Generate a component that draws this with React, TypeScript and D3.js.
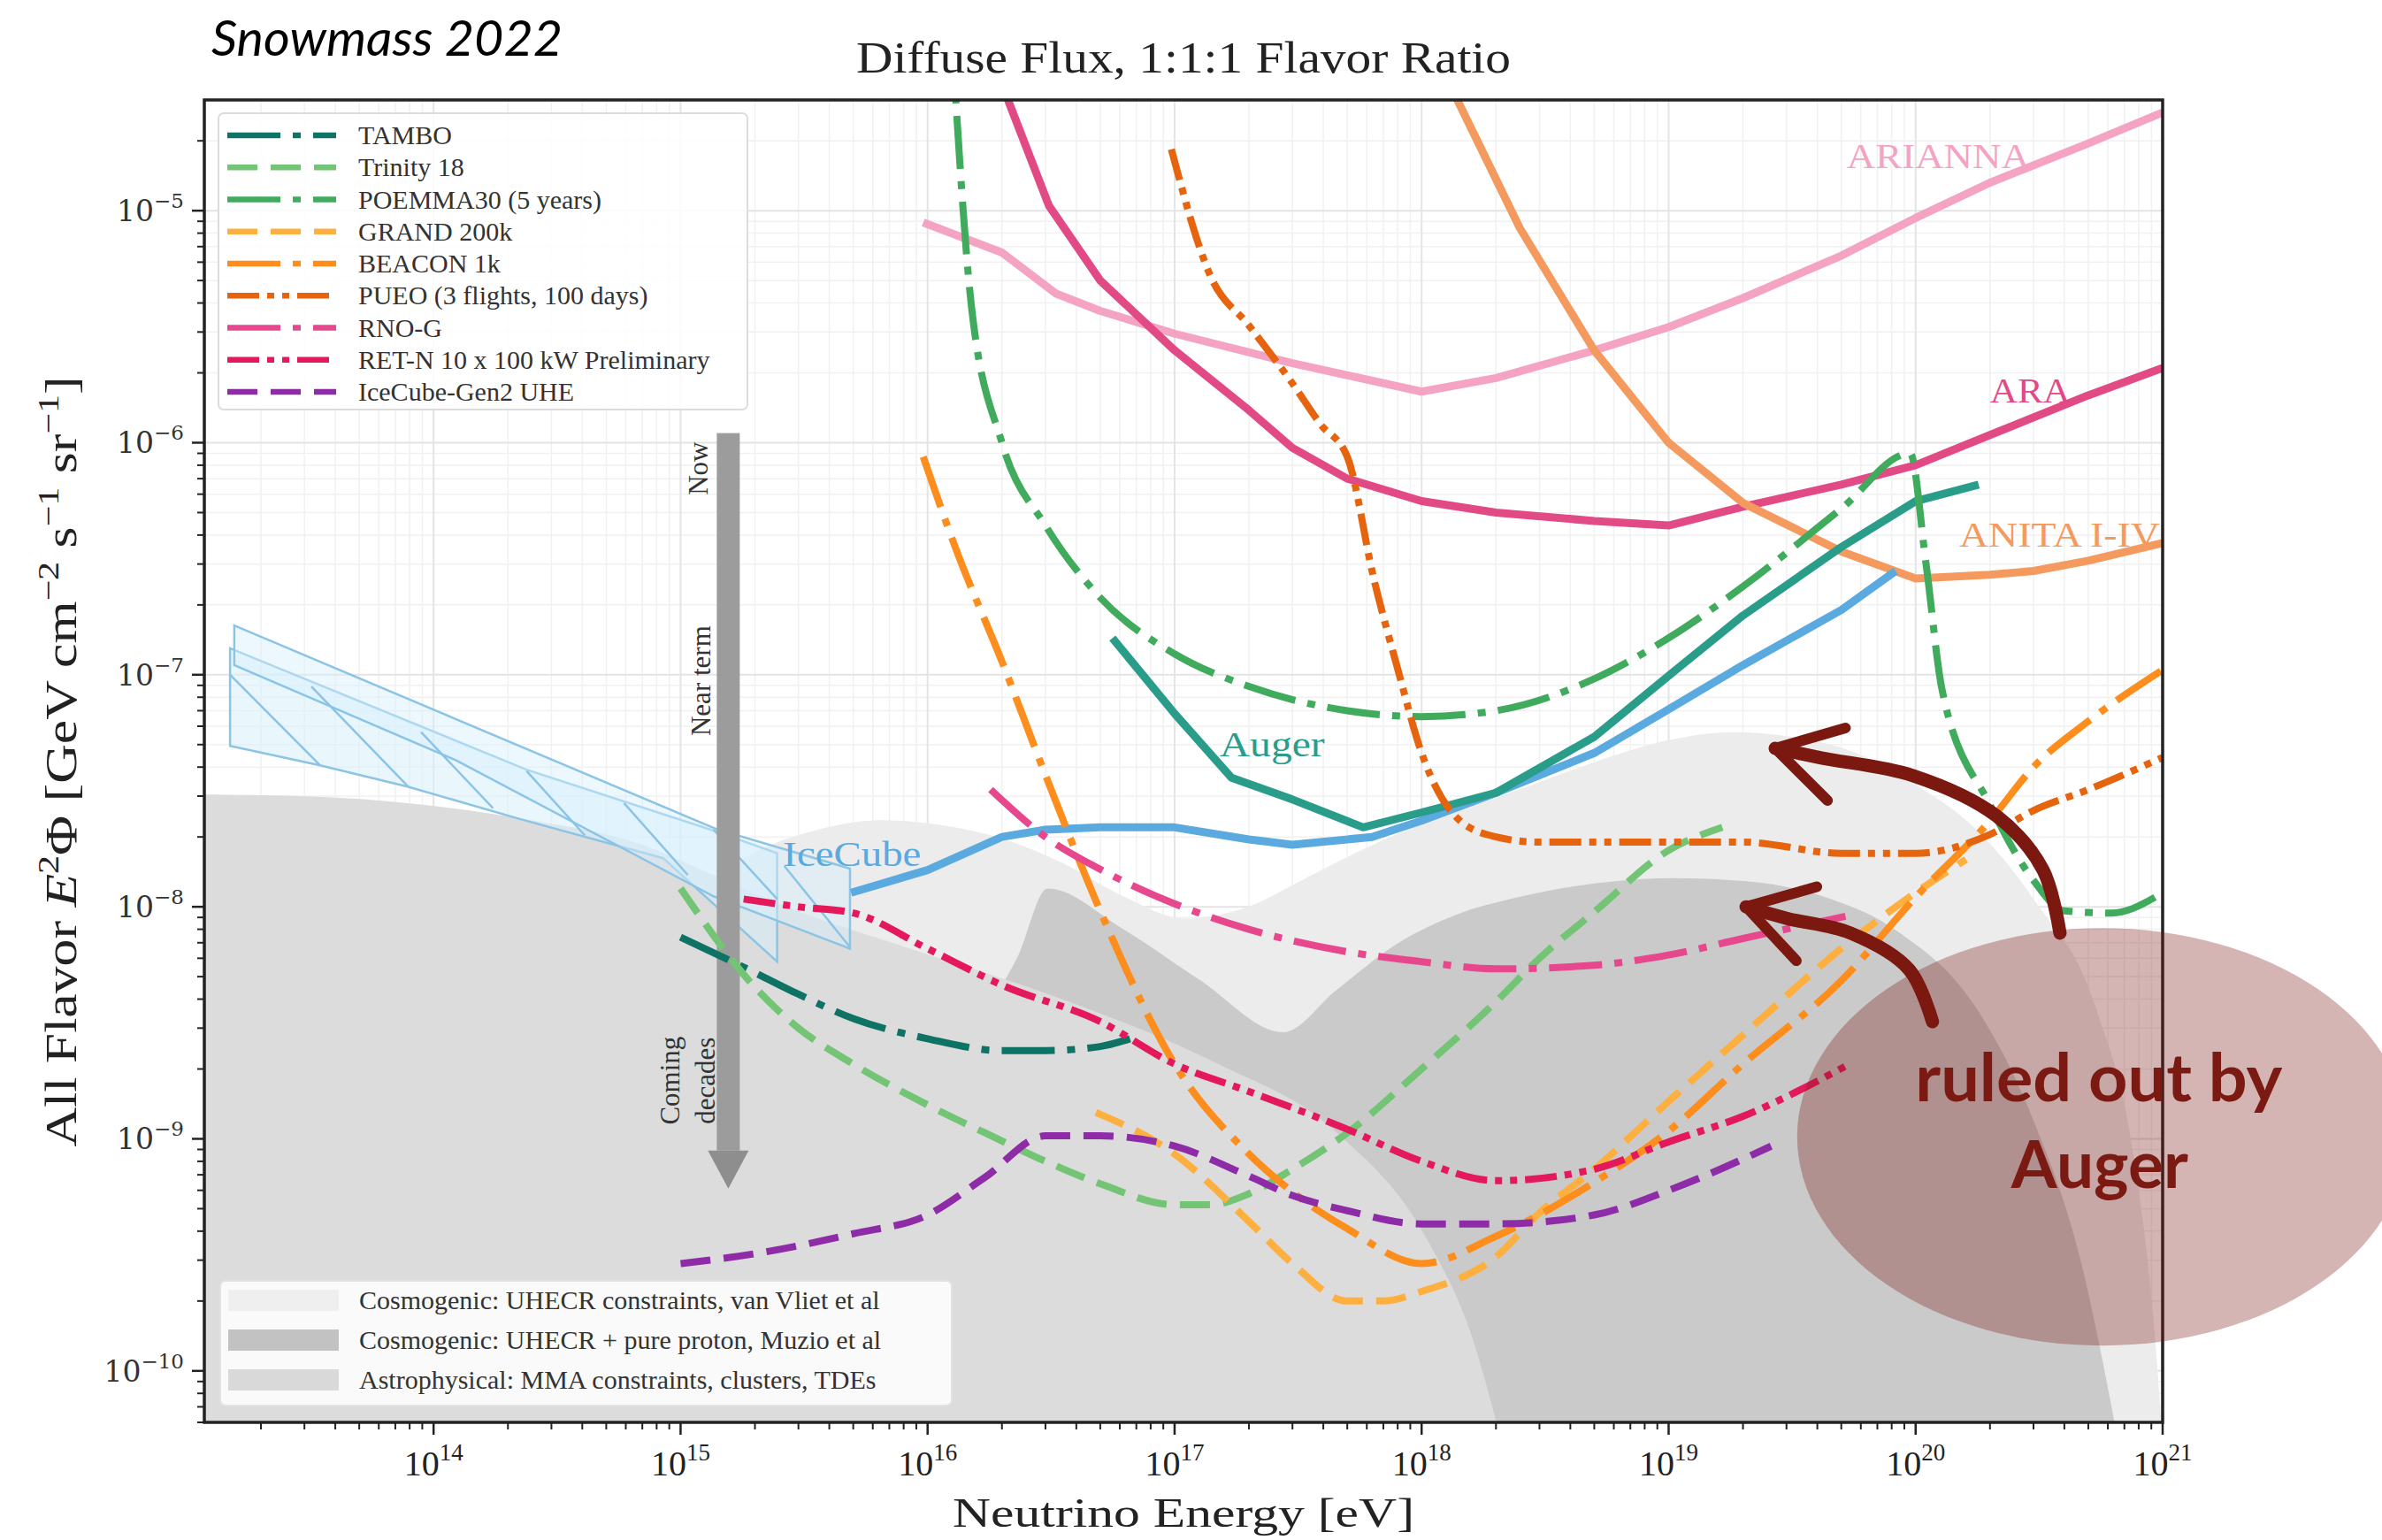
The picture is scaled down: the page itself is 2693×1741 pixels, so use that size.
import React from 'react';
import * as d3 from 'd3';

type P = [number, number];

// ---------------- DATA (E in eV, all-flavor E^2 Phi in GeV cm^-2 s^-1 sr^-1) ----------------
const tambo: P[] = [[1.0e15,7.4e-9],[2.0e15,5.2e-9],[3.0e15,4.2e-9],[5.0e15,3.3e-9],[1.0e16,2.7e-9],[2.0e16,2.4e-9],[3.0e16,2.4e-9],[5.0e16,2.5e-9],[6.6e16,2.7e-9]];
const trinity: P[] = [[1.0e15,1.2e-8],[2.0e15,4.5e-9],[3.0e15,3.0e-9],[5.0e15,2.1e-9],[1.0e16,1.4e-9],[2.0e16,9.8e-10],[3.0e16,8.0e-10],[5.0e16,6.4e-10],[1.0e17,5.2e-10],[1.4e17,5.2e-10],[2.0e17,5.8e-10],[3.0e17,7.4e-10],[5.0e17,1.06e-9],[1.0e18,2.0e-9],[2.0e18,3.9e-9],[3.0e18,6.0e-9],[5.0e18,9.5e-9],[1.0e19,1.75e-8],[1.65e19,2.2e-8]];
const poemma: P[] = [[1.25e16,6.0e-5],[1.5e16,4.0e-6],[2.0e16,1.0e-6],[3.0e16,4.4e-7],[5.0e16,2.15e-7],[1.0e17,1.23e-7],[2.0e17,8.9e-8],[5.0e17,7.0e-8],[1.0e18,6.6e-8],[2.0e18,7.0e-8],[5.0e18,9.6e-8],[1.0e19,1.44e-7],[2.0e19,2.4e-7],[5.0e19,5.2e-7],[9.5e19,9.0e-7],[1.1e20,3.05e-7],[1.28e20,8.6e-8],[2.0e20,2.75e-8],[3.0e20,1.3e-8],[4.0e20,9.6e-9],[6.2e20,9.4e-9],[1.0e21,1.15e-8]];
const grand: P[] = [[4.8e16,1.3e-9],[1.0e17,8.6e-10],[2.0e17,4.4e-10],[3.0e17,2.9e-10],[5.0e17,2.0e-10],[7.0e17,2.0e-10],[1.0e18,2.2e-10],[2.0e18,3.1e-10],[3.0e18,4.8e-10],[5.0e18,7.4e-10],[1.0e19,1.45e-9],[2.0e19,2.8e-9],[5.0e19,6.6e-9],[1.0e20,1.15e-8],[1.6e20,1.6e-8]];
const beacon: P[] = [[9.6e15,8.7e-7],[1.3e16,3.5e-7],[2.0e16,1.14e-7],[3.0e16,3.7e-8],[5.0e16,9.6e-9],[1.0e17,2.1e-9],[2.0e17,8.6e-10],[3.0e17,5.9e-10],[5.0e17,4.1e-10],[1.0e18,2.9e-10],[2.0e18,3.8e-10],[5.0e18,6.5e-10],[1.0e19,1.08e-9],[2.0e19,2.1e-9],[5.0e19,4.8e-9],[1.0e20,1.1e-8],[2.0e20,2.35e-8],[3.0e20,4.0e-8],[5.0e20,6.3e-8],[1.0e21,1.05e-7]];
const pueo: P[] = [[9.7e16,1.84e-5],[1.4e17,5.2e-6],[2.0e17,3.2e-6],[3.0e17,1.8e-6],[3.9e17,1.2e-6],[5.0e17,8.7e-7],[6.4e17,2.6e-7],[8.0e17,1.06e-7],[1.0e18,4.6e-8],[1.4e18,2.4e-8],[2.0e18,2.0e-8],[3.0e18,1.9e-8],[5.0e18,1.9e-8],[1.0e19,1.9e-8],[2.0e19,1.9e-8],[5.0e19,1.7e-8],[1.0e20,1.7e-8],[2.0e20,2.05e-8],[3.0e20,2.6e-8],[5.0e20,3.2e-8],[1.0e21,4.4e-8]];
const rnog: P[] = [[1.8e16,3.2e-8],[3.0e16,2.0e-8],[5.0e16,1.45e-8],[1.0e17,1.03e-8],[2.0e17,8.0e-9],[5.0e17,6.4e-9],[1.0e18,5.8e-9],[2.0e18,5.4e-9],[5.0e18,5.6e-9],[1.0e19,6.2e-9],[2.0e19,7.3e-9],[5.2e19,9.1e-9]];
const retn: P[] = [[1.8e15,1.08e-8],[3.0e15,1.0e-8],[5.0e15,9.4e-9],[1.0e16,6.6e-9],[2.0e16,4.6e-9],[5.0e16,3.2e-9],[1.0e17,2.1e-9],[2.0e17,1.6e-9],[5.0e17,1.1e-9],[1.0e18,8.0e-10],[2.0e18,6.6e-10],[5.0e18,7.4e-10],[1.0e19,9.7e-10],[2.0e19,1.25e-9],[5.4e19,2.1e-9]];
const gen2: P[] = [[1.0e15,2.9e-10],[2.0e15,3.2e-10],[5.0e15,3.9e-10],[1.0e16,4.7e-10],[1.7e16,6.8e-10],[3.0e16,1.03e-9],[5.0e16,1.03e-9],[1.0e17,9.3e-10],[2.0e17,6.9e-10],[3.0e17,5.7e-10],[5.0e17,4.9e-10],[1.0e18,4.3e-10],[2.0e18,4.3e-10],[5.0e18,4.7e-10],[1.0e19,6.0e-10],[2.6e19,9.3e-10]];
const arianna: P[] = [[9.6e15,8.9e-6],[2.0e16,6.6e-6],[3.3e16,4.4e-6],[5.0e16,3.7e-6],[1.0e17,2.95e-6],[3.0e17,2.2e-6],[1.0e18,1.66e-6],[2.0e18,1.9e-6],[5.0e18,2.5e-6],[1.0e19,3.15e-6],[2.0e19,4.2e-6],[5.0e19,6.4e-6],[1.0e20,9.3e-6],[2.0e20,1.32e-5],[5.0e20,1.95e-5],[1.0e21,2.65e-5]];
const ara: P[] = [[2.0e16,3.5e-5],[3.1e16,1.05e-5],[5.0e16,5.0e-6],[1.0e17,2.5e-6],[2.0e17,1.38e-6],[3.0e17,9.5e-7],[5.0e17,7.0e-7],[1.0e18,5.6e-7],[2.0e18,5.0e-7],[5.0e18,4.6e-7],[1.0e19,4.4e-7],[2.0e19,5.3e-7],[5.0e19,6.6e-7],[1.0e20,8.0e-7],[2.0e20,1.08e-6],[5.0e20,1.6e-6],[1.0e21,2.1e-6]];
const anita: P[] = [[1.3e18,3.5e-5],[1.9e18,1.53e-5],[2.5e18,8.4e-6],[5.0e18,2.5e-6],[1.0e19,1.0e-6],[2.0e19,5.5e-7],[5.0e19,3.4e-7],[1.0e20,2.6e-7],[2.0e20,2.7e-7],[3.0e20,2.8e-7],[5.0e20,3.1e-7],[1.0e21,3.7e-7]];
const icecube: P[] = [[4.9e15,1.15e-8],[1.0e16,1.44e-8],[2.0e16,2.0e-8],[3.0e16,2.15e-8],[5.0e16,2.2e-8],[1.0e17,2.2e-8],[2.0e17,1.95e-8],[3.0e17,1.85e-8],[6.3e17,2.0e-8],[1.0e18,2.35e-8],[2.0e18,3.1e-8],[5.0e18,4.6e-8],[1.0e19,7.1e-8],[2.0e19,1.1e-7],[5.0e19,1.9e-7],[8.3e19,2.8e-7]];
const auger: P[] = [[5.6e16,1.44e-7],[1.0e17,6.8e-8],[1.7e17,3.6e-8],[3.0e17,2.9e-8],[5.8e17,2.2e-8],[1.0e18,2.55e-8],[2.0e18,3.1e-8],[5.0e18,5.4e-8],[1.0e19,9.9e-8],[2.0e19,1.8e-7],[5.0e19,3.55e-7],[1.0e20,5.6e-7],[1.8e20,6.6e-7]];

// Shaded model regions (upper boundaries)
const cosmoVanVlietTop: P[] = [[1.36e15,1.33e-8],[2.07e15,1.75e-8],[3.66e15,2.16e-8],[6.45e15,2.36e-8],[1.13e16,2.25e-8],[2.0e16,1.97e-8],[3.5e16,1.55e-8],[6.2e16,1.11e-8],[1.1e17,8.9e-9],[1.93e17,9.9e-9],[3.4e17,1.33e-8],[6.0e17,1.8e-8],[1.22e18,2.47e-8],[2.46e18,3.19e-8],[5.0e18,4.2e-8],[1.02e19,5.25e-8],[1.8e19,5.66e-8],[3.16e19,5.4e-8],[5.6e19,4.65e-8],[9.8e19,3.4e-8],[1.73e20,2.19e-8],[3.0e20,1.08e-8],[5.4e20,3.6e-9],[7.6e20,8.6e-10],[9.2e20,1.63e-10],[1.0e21,5.0e-11]];
const cosmoMuzioTop: P[] = [[1.5e16,3.0e-9],[2.3e16,6.0e-9],[3.06e16,1.2e-8],[6.2e16,8.0e-9],[1.26e17,4.85e-9],[2.75e17,2.88e-9],[4.5e17,4.36e-9],[7.9e17,6.9e-9],[1.4e18,9.3e-9],[2.46e18,1.1e-8],[5.0e18,1.26e-8],[1.02e19,1.33e-8],[2.06e19,1.29e-8],[4.2e19,1.11e-8],[8.5e19,7.8e-9],[1.73e20,3.76e-9],[3.0e20,1.2e-9],[4.66e20,2.98e-10],[6.6e20,5.0e-11]];
const astroTop: P[] = [[1.0e13,3.05e-8],[2.95e13,3.0e-8],[9.2e13,2.75e-8],[2.48e14,2.36e-8],[6.7e14,1.88e-8],[1.36e15,1.37e-8],[2.75e15,9.9e-9],[8.5e15,6.6e-9],[3.5e16,4.0e-9],[1.45e17,2.14e-9],[4.5e17,1.07e-9],[1.05e18,3.7e-10],[1.6e18,1.4e-10],[2.1e18,5.0e-11]];

// IceCube measured spectrum bands
const iceBandA: P[] = [[1.5e13,1.3e-7],[2.38e14,3.9e-8],[1.36e15,2.13e-8],[2.46e15,1.7e-8],[2.46e15,5.8e-9],[8.5e14,1.62e-8],[2.2e14,2.4e-8],[7.9e13,3.29e-8],[3.47e13,4.07e-8],[1.5e13,4.94e-8]];
const iceBandB: P[] = [[1.56e13,1.63e-7],[1.4e15,2.16e-8],[4.85e15,1.46e-8],[4.85e15,6.6e-9],[1.36e15,1.11e-8],[1.22e14,4.3e-8],[1.56e13,1.1e-7]];
const iceHatch: [P, P][] = [
  [[1.5e13,1.0e-7],[3.47e13,4.07e-8]],
  [[3.2e13,8.9e-8],[7.9e13,3.29e-8]],
  [[8.9e13,5.66e-8],[1.74e14,2.66e-8]],
  [[2.38e14,3.85e-8],[4.1e14,2.03e-8]],
  [[5.9e14,2.8e-8],[1.07e15,1.37e-8]],
  [[1.36e15,2.15e-8],[2.46e15,1.08e-8]],
  [[2.63e15,1.5e-8],[4.85e15,6.7e-9]],
];

// Text labels next to curves: [E, flux] anchor
const curveLabels = ['ARIANNA', 'ARA', 'ANITA I-IV', 'Auger', 'IceCube'];
const curveLabelAnchors: P[] = [[5.26e19,1.52e-5],[2.0e20,1.49e-6],[1.5e20,3.56e-7],[1.52e17,4.45e-8],[2.6e15,1.5e-8]];

const legendNames = ['TAMBO','Trinity 18','POEMMA30 (5 years)','GRAND 200k','BEACON 1k','PUEO (3 flights, 100 days)','RNO-G','RET-N 10 x 100 kW Preliminary','IceCube-Gen2 UHE'];
const modelLegendNames = ['Cosmogenic: UHECR constraints, van Vliet et al','Cosmogenic: UHECR + pure proton, Muzio et al','Astrophysical: MMA constraints, clusters, TDEs'];

const xTickValues = [1e14,1e15,1e16,1e17,1e18,1e19,1e20,1e21];
const xTickExps = ['14','15','16','17','18','19','20','21'];
const yTickValues = [1e-10,1e-9,1e-8,1e-7,1e-6,1e-5];
const yTickExps = ['\u221210','\u22129','\u22128','\u22127','\u22126','\u22125'];

// "Now -> Coming decades" arrow anchors [E, flux]
const timeArrowTop: P = [1.56e15, 1.1e-6];
const timeArrowShaftEnd: P = [1.56e15, 8.9e-10];
const timeArrowTip: P = [1.56e15, 6.1e-10];

// Annotation (ruled out by Auger)
const bubbleCenter: P = [5.7e20, 1.02e-9];
const arrowUpper: P[] = [[3.84e20,7.7e-9],[3.28e20,1.44e-8],[2.14e20,2.45e-8],[9.8e19,3.67e-8],[4.15e19,4.38e-8],[2.7e19,4.82e-8]];
const arrowUpperBarbs: P[] = [[5.2e19,5.9e-8],[4.4e19,2.87e-8]];
const arrowLower: P[] = [[1.17e20,3.2e-9],[9.4e19,5.37e-9],[5.45e19,7.7e-9],[3.03e19,8.9e-9],[2.06e19,1.0e-8]];
const arrowLowerBarbs: P[] = [[3.98e19,1.22e-8],[3.29e19,5.86e-9]];

// ---------------- STYLE ----------------
const W = 2693, H = 1741;
const PL = 231, PR = 2445, PT = 113, PB = 1608;
const X_DOMAIN: [number, number] = [1.18e13, 1e21];
const Y_DOMAIN: [number, number] = [6.0e-11, 3.0e-5];
const DASHDOT = '60,14,9,14';
const DASHED = '34,15';
const DASHDOTDOT = '36,9,8,9,8,9';
const SERIF = '"Liberation Serif", "Times New Roman", serif';

export default function App() {
  const x = d3.scaleLog().domain(X_DOMAIN).range([PL, PR]);
  const y = d3.scaleLog().domain(Y_DOMAIN).range([PB, PT]);
  const lin = d3.line<P>().x(d => x(d[0])).y(d => y(d[1]));
  const smooth = d3.line<P>().x(d => x(d[0])).y(d => y(d[1])).curve(d3.curveMonotoneX);
  const areaGen = d3.area<P>().x(d => x(d[0])).y1(d => y(d[1])).y0(PB + 40).curve(d3.curveMonotoneX);
  const brush = d3.line<P>().x(d => x(d[0])).y(d => y(d[1])).curve(d3.curveCatmullRom);

  const experiments = [
    { data: tambo, color: '#0e7365', dash: DASHDOT },
    { data: trinity, color: '#74c476', dash: DASHED },
    { data: poemma, color: '#41ab5d', dash: DASHDOT },
    { data: grand, color: '#fdb040', dash: DASHED },
    { data: beacon, color: '#fd8d1c', dash: DASHDOT },
    { data: pueo, color: '#e6640e', dash: DASHDOTDOT },
    { data: rnog, color: '#e7488d', dash: DASHDOT },
    { data: retn, color: '#e3195c', dash: DASHDOTDOT },
    { data: gen2, color: '#8e2ca8', dash: DASHED },
  ];
  const solids = [
    { data: arianna, color: '#f4a3c2' },
    { data: ara, color: '#e24a86' },
    { data: anita, color: '#f59a5e' },
    { data: icecube, color: '#5aaae0' },
    { data: auger, color: '#2a9d8a' },
  ];
  const labelStyles = [
    { color: '#f4a3c2', len: 207 },
    { color: '#e24a86', len: 91 },
    { color: '#f59a5e', len: 227 },
    { color: '#2a9d8a', len: 119 },
    { color: '#5aaae0', len: 156 },
  ];
  const modelPatch = ['#efefef', '#c2c2c2', '#d9d9d9'];

  // minor ticks
  const xMinor: number[] = [];
  for (let e = 13; e <= 20; e++) for (let k = 2; k <= 9; k++) { const v = k * Math.pow(10, e); if (v >= X_DOMAIN[0] && v <= X_DOMAIN[1]) xMinor.push(v); }
  const yMinor: number[] = [];
  for (let e = -11; e <= -5; e++) for (let k = 2; k <= 9; k++) { const v = k * Math.pow(10, e); if (v >= Y_DOMAIN[0] && v <= Y_DOMAIN[1]) yMinor.push(v); }

  const ax = x(timeArrowTop[0]);
  const aTop = y(timeArrowTop[1]);
  const aShaft = y(timeArrowShaftEnd[1]);
  const aTip = y(timeArrowTip[1]);

  const bx = x(bubbleCenter[0]);
  const by = y(bubbleCenter[1]);
  const upTip = arrowUpper[arrowUpper.length - 1];
  const loTip = arrowLower[arrowLower.length - 1];

  return (
    <svg width={W} height={H} style={{ position: 'absolute', left: 0, top: 0, background: '#fff' }}>
      <defs>
        <clipPath id="plotClip"><rect x={PL} y={PT} width={PR - PL} height={PB - PT} /></clipPath>
      </defs>
      <rect x={0} y={0} width={W} height={H} fill="#fff" />

      {/* grid */}
      <g>
        {xMinor.map((v, i) => <line key={'gx' + i} x1={x(v)} x2={x(v)} y1={PT} y2={PB} stroke="#f1f1f1" strokeWidth={1.5} />)}
        {yMinor.map((v, i) => <line key={'gy' + i} x1={PL} x2={PR} y1={y(v)} y2={y(v)} stroke="#f1f1f1" strokeWidth={1.5} />)}
        {xTickValues.map((v, i) => <line key={'GX' + i} x1={x(v)} x2={x(v)} y1={PT} y2={PB} stroke="#e4e4e4" strokeWidth={2} />)}
        {yTickValues.map((v, i) => <line key={'GY' + i} x1={PL} x2={PR} y1={y(v)} y2={y(v)} stroke="#e4e4e4" strokeWidth={2} />)}
      </g>

      <g clipPath="url(#plotClip)">
        {/* model regions */}
        <path d={areaGen(cosmoVanVlietTop) || ''} fill="#ececec" />
        <path d={areaGen(cosmoMuzioTop) || ''} fill="#cacaca" />
        <path d={areaGen(astroTop) || ''} fill="#dcdcdc" />

        {/* IceCube bands */}
        <path d={lin(iceBandA) + 'Z'} fill="rgba(215,240,252,0.55)" stroke="#8cc4e6" strokeWidth={2.5} />
        <path d={lin(iceBandB) + 'Z'} fill="rgba(215,240,252,0.45)" stroke="#8cc4e6" strokeWidth={2.5} />
        {iceHatch.map((s, i) => <path key={'h' + i} d={lin(s) || ''} stroke="#8cc4e6" strokeWidth={2.5} fill="none" />)}

        {/* time arrow */}
        <rect x={ax - 13} y={aTop} width={26} height={aShaft - aTop} fill="#9c9c9c" />
        <path d={`M${ax - 23},${aShaft} L${ax + 23},${aShaft} L${ax},${aTip} Z`} fill="#8e8e8e" />

        {/* solid curves */}
        {solids.map((s, i) => (
          <path key={'s' + i} d={lin(s.data) || ''} fill="none" stroke={s.color} strokeWidth={9} strokeLinejoin="round" />
        ))}
        {/* experiments */}
        {experiments.map((s, i) => (
          <path key={'e' + i} d={smooth(s.data) || ''} fill="none" stroke={s.color} strokeWidth={8} strokeDasharray={s.dash} />
        ))}
      </g>

      {/* time arrow labels */}
      <g fontFamily={SERIF} fontSize={31} fill="#333">
        <text transform={`translate(${ax - 23},${aTop + 40}) rotate(-90)`} textAnchor="middle">Now</text>
        <text transform={`translate(${ax - 20},${aTop + 280}) rotate(-90)`} textAnchor="middle">Near term</text>
        <text transform={`translate(${ax - 55},${aTop + 732}) rotate(-90)`} textAnchor="middle">Coming</text>
        <text transform={`translate(${ax - 15},${aTop + 732}) rotate(-90)`} textAnchor="middle">decades</text>
      </g>

      {/* curve labels */}
      <g fontFamily={SERIF} fontSize={40}>
        {curveLabels.map((t, i) => (
          <text key={'cl' + i} x={x(curveLabelAnchors[i][0])} y={y(curveLabelAnchors[i][1])} fill={labelStyles[i].color}
            textLength={labelStyles[i].len} lengthAdjust="spacingAndGlyphs">{t}</text>
        ))}
      </g>

      {/* experiment legend */}
      <g>
        <rect x={247} y={128} width={598} height={335} rx={6} fill="rgba(255,255,255,0.85)" stroke="#dcdcdc" strokeWidth={2} />
        {experiments.map((s, i) => {
          const yy = 153 + i * 36.25;
          return (
            <g key={'lg' + i}>
              <line x1={257} x2={380} y1={yy} y2={yy} stroke={s.color} strokeWidth={6.5} strokeDasharray={s.dash} />
              <text x={405} y={yy + 10} fontFamily={SERIF} fontSize={30} fill="#333">{legendNames[i]}</text>
            </g>
          );
        })}
      </g>

      {/* model legend */}
      <g>
        <rect x={249} y={1448} width={827} height={141} rx={6} fill="rgba(255,255,255,0.85)" stroke="#e2e2e2" strokeWidth={2} />
        {modelLegendNames.map((t, i) => {
          const yy = 1470 + i * 45;
          return (
            <g key={'ml' + i}>
              <rect x={258} y={yy - 12} width={125} height={24} fill={modelPatch[i]} />
              <text x={406} y={yy + 10} fontFamily={SERIF} fontSize={30} fill="#333">{t}</text>
            </g>
          );
        })}
      </g>

      {/* axes frame and ticks */}
      <g stroke="#222">
        {xMinor.map((v, i) => <line key={'tx' + i} x1={x(v)} x2={x(v)} y1={PB} y2={PB + 8} strokeWidth={2} />)}
        {xTickValues.map((v, i) => <line key={'TX' + i} x1={x(v)} x2={x(v)} y1={PB} y2={PB + 14} strokeWidth={2.5} />)}
        {yMinor.map((v, i) => <line key={'ty' + i} x1={PL - 8} x2={PL} y1={y(v)} y2={y(v)} strokeWidth={2} />)}
        {yTickValues.map((v, i) => <line key={'TY' + i} x1={PL - 14} x2={PL} y1={y(v)} y2={y(v)} strokeWidth={2.5} />)}
        <rect x={PL} y={PT} width={PR - PL} height={PB - PT} fill="none" strokeWidth={3.5} />
      </g>

      {/* tick labels */}
      <g fontFamily={SERIF} fill="#222">
        {xTickValues.map((v, i) => (
          <text key={'xl' + i} x={x(v)} y={1668} textAnchor="middle" fontSize={40}>
            10<tspan dy={-17} fontSize={27}>{xTickExps[i]}</tspan>
          </text>
        ))}
      </g>
      <g fontFamily='"DejaVu Serif", serif' fill="#333">
        {yTickValues.map((v, i) => (
          <text key={'yl' + i} x={208} y={y(v) + 12} textAnchor="end" fontSize={33}>
            10<tspan dy={-15} fontSize={23}>{yTickExps[i]}</tspan>
          </text>
        ))}
      </g>

      {/* axis titles */}
      <text x={1338} y={1726} textAnchor="middle" fontFamily={SERIF} fontSize={47} fill="#222" textLength={522} lengthAdjust="spacingAndGlyphs">Neutrino Energy [eV]</text>
      <text transform="translate(86,861) rotate(-90)" textAnchor="middle" fontFamily={SERIF} fontSize={50} fill="#222" textLength={871} lengthAdjust="spacingAndGlyphs">
        All Flavor <tspan fontStyle="italic">E</tspan><tspan dy={-20} fontSize={34}>2</tspan><tspan dy={20}>{'\u03A6 [GeV cm'}</tspan><tspan dy={-20} fontSize={34}>{'\u22122'}</tspan><tspan dy={20}> s</tspan><tspan dy={-20} fontSize={34}>{'\u22121'}</tspan><tspan dy={20}> sr</tspan><tspan dy={-20} fontSize={34}>{'\u22121'}</tspan><tspan dy={20}>]</tspan>
      </text>
      <text x={1338} y={82} textAnchor="middle" fontFamily={SERIF} fontSize={50} fill="#222" textLength={740} lengthAdjust="spacingAndGlyphs">Diffuse Flux, 1:1:1 Flavor Ratio</text>
      <text x={239} y={63} fontFamily='Lato, "Open Sans", sans-serif' fontStyle="italic" fontSize={56} fill="#000" textLength={397} lengthAdjust="spacingAndGlyphs">Snowmass 2022</text>

      {/* annotation */}
      <ellipse cx={bx} cy={by} rx={345} ry={236} fill="rgba(128,28,28,0.33)" />
      <g stroke="#7b1810" fill="none" strokeLinecap="round" strokeLinejoin="round">
        <path d={brush(arrowUpper) || ''} strokeWidth={15} />
        <path d={lin([arrowUpperBarbs[0], upTip, arrowUpperBarbs[1]]) || ''} strokeWidth={12} />
        <path d={brush(arrowLower) || ''} strokeWidth={15} />
        <path d={lin([arrowLowerBarbs[0], loTip, arrowLowerBarbs[1]]) || ''} strokeWidth={12} />
      </g>
      <g fontFamily='Lato, "Open Sans", sans-serif' fontWeight="bold" fill="#7b1a12" textAnchor="middle">
        <text x={bx - 4} y={by - 40} fontSize={74} textLength={415} lengthAdjust="spacingAndGlyphs">ruled out by</text>
        <text x={bx - 3} y={by + 58} fontSize={74} textLength={200} lengthAdjust="spacingAndGlyphs">Auger</text>
      </g>
    </svg>
  );
}
